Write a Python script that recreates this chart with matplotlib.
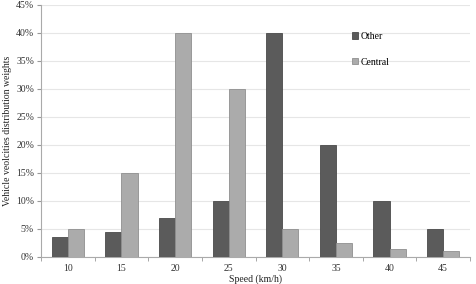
import matplotlib
matplotlib.use("Agg")
import matplotlib.pyplot as plt
import numpy as np
from matplotlib.ticker import FuncFormatter, FixedLocator

categories = ["10", "15", "20", "25", "30", "35", "40", "45"]
other = [3.5, 4.5, 7, 10, 40, 20, 10, 5]
central = [5, 15, 40, 30, 5, 2.5, 1.5, 1]

plt.rcParams['font.family'] = ['Liberation Serif', 'DejaVu Serif']

fig = plt.figure(figsize=(4.76, 2.84), dpi=100)
ax = fig.add_axes([41 / 476, 1 - 257 / 284, (470 - 41) / 476, 252 / 284])

x = np.arange(len(categories))
w = 0.3
ax.bar(x - w / 2, other, w, color="#5b5b5b", edgecolor="#4a4a4a", linewidth=0.6, label="Other", zorder=3)
ax.bar(x + w / 2, central, w, color="#ababab", edgecolor="#8f8f8f", linewidth=0.6, label="Central", zorder=3)

ax.set_xlim(-0.5, len(categories) - 0.5)
ax.set_ylim(0, 45)
ax.set_yticks(np.arange(0, 46, 5))
ax.yaxis.set_major_formatter(FuncFormatter(lambda v, p: f"{v:.0f}%"))
ax.set_xticks(x)
ax.set_xticklabels(categories)
ax.xaxis.set_minor_locator(FixedLocator(np.arange(-0.5, len(categories), 1)))
ax.tick_params(axis="x", which="major", length=0, labelsize=7, pad=5, colors="#333333")
ax.tick_params(axis="x", which="minor", length=3, color="#999999", direction="out")
ax.tick_params(axis="y", length=3, labelsize=7, color="#999999", colors="#333333", pad=2)

ax.grid(axis="y", color="#e6e6e6", linewidth=0.8, zorder=0)
for s in ["top", "right"]:
    ax.spines[s].set_visible(False)
for s in ["left", "bottom"]:
    ax.spines[s].set_color("#aaaaaa")
    ax.spines[s].set_linewidth(0.8)

ax.set_xlabel("Speed (km/h)", fontsize=7, color="#222222", labelpad=1)
ax.set_ylabel("Vehicle veolcities distribution weights", fontsize=7, color="#222222", labelpad=3)

leg = ax.legend(loc="upper left", bbox_to_anchor=((352 - 41) / 429, (257 - 32) / 252), frameon=False,
                fontsize=7, handlelength=0.6, handleheight=0.6, handletextpad=0.3, labelspacing=1.7,
                borderaxespad=0, borderpad=0)

fig.savefig("out.png", dpi=100, facecolor="white")
